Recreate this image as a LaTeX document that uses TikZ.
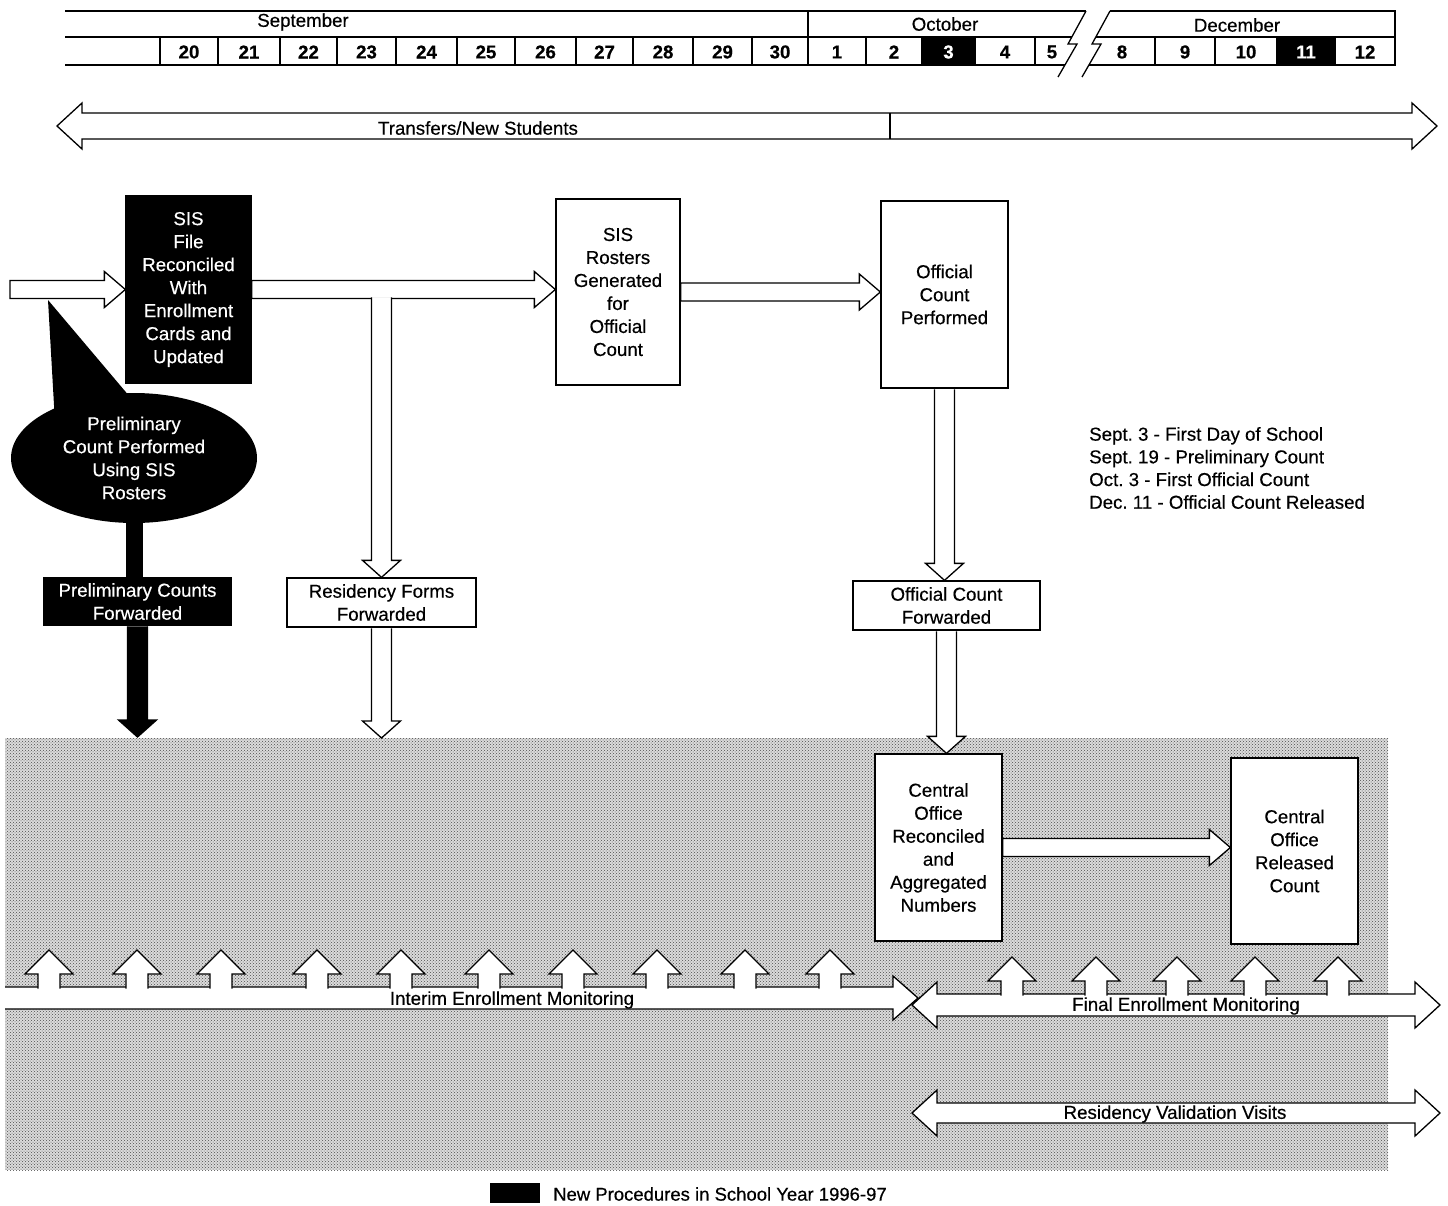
\documentclass[tikz,border=0pt]{standalone}
\usepackage{fontspec}
\setmainfont{Liberation Sans}[FakeBold=0.45]
\usetikzlibrary{calc,patterns,shapes.geometric}
\frenchspacing
\newcommand\fs{\fontsize{18.7}{23}\selectfont}
\newcommand\rarr[3][]{\filldraw[blockarr,#1] let \p1=(#2), \p2=(#3) in
  ({\x1},{\y1+9pt}) -- ({\x2-21pt},{\y1+9pt}) -- ({\x2-21pt},{\y1+18pt}) -- ({\x2},{\y1})
  -- ({\x2-21pt},{\y1-18pt}) -- ({\x2-21pt},{\y1-9pt}) -- ({\x1},{\y1-9pt}) -- cycle;}
\newcommand\darr[3][]{\filldraw[blockarr,#1] let \p1=(#2), \p2=(#3) in
  ({\x1-10pt},{\y1-0.8pt}) -- ({\x1-10pt},{\y2+17pt}) -- ({\x1-19pt},{\y2+17pt}) -- ({\x1},{\y2})
  -- ({\x1+19pt},{\y2+17pt}) -- ({\x1+10pt},{\y2+17pt}) -- ({\x1+10pt},{\y1-0.8pt});}
\tikzset{
  procbox/.style={draw, fill=white, line width=1.3pt, inner sep=0pt, align=center, font=\fs},
  newbox/.style={procbox, fill=black, text=white},
  blockarr/.style={draw, fill=white, line width=1.3pt, line join=miter},
  lbl/.style={font=\fs, inner sep=0pt},
  daynum/.style={font=\fs\bfseries, inner sep=0pt},
  calline/.style={line width=1.3pt},
}
\begin{document}
\begin{tikzpicture}[x=1pt,y=-1pt]
\useasboundingbox (0,0) rectangle (1448,1205);
% shaded region
\fill[black!14] (5,738) rectangle (1388,1170);
\fill[pattern=crosshatch dots, pattern color=black!70] (5,738) rectangle (1388,1170);

% ---------- calendar ----------
\fill (922,37) rectangle (975,65);
\fill (1277,37) rectangle (1335,65);
\draw[calline] (65,11) -- (1086,11);
\draw[calline] (65,37) -- (1071.8,37);
\draw[calline] (65,65) -- (1064.9,65);
\draw[calline] (1110,11) -- (1395,11) -- (1395,65) -- (1088.9,65);
\draw[calline] (1095.8,37) -- (1395,37);
\draw[calline] (808,11) -- (808,65);
\foreach \x in {160,218,280,337,396,457,515,576,633,693,752,866,922,975,1035,1155,1215,1277,1335}
  \draw[calline] (\x,37) -- (\x,65);
\draw[calline] (1086,11) -- (1068,44) -- (1077,44) -- (1058,77);
\draw[calline] (1110,11) -- (1092,44) -- (1101,44) -- (1082,77);
\node[lbl] (msep) at (303,22) {September};
\node[lbl] (moct) at (945,24) {October};
\node[lbl] (mdec) at (1237,25) {December};
\foreach \n/\x in {20/189,21/249,22/308.5,23/366.5,24/426.5,25/486,26/545.5,27/604.5,28/663,29/722.5,30/780,
  1/837,2/894,4/1005,5/1052,8/1122,9/1185,10/1246,12/1365}
  \node[daynum] (d\n) at (\x,52) {\n};
\node[daynum,text=white] (d3) at (948.5,52) {3};
\node[daynum,text=white] (d11) at (1306,52) {11};

% ---------- transfers arrow ----------
\filldraw[blockarr] (57,126) -- (82,103) -- (82,113) -- (1412,113) -- (1412,103) -- (1437,126)
  -- (1412,149) -- (1412,139) -- (82,139) -- (82,149) -- cycle;
\draw[line width=1.3pt] (890,113) -- (890,139);
\node[lbl] (trans) at (478,128) {Transfers/New Students};

% ---------- callout spike and ellipse ----------
\fill (48,300) -- (130,397) -- (130,440) -- (56,440) -- cycle;
\node[ellipse, fill=black, text=white, minimum width=246, minimum height=130, inner sep=0pt,
  align=center, font=\fs] (ell) at (134,458) {Preliminary\\Count Performed\\Using SIS\\Rosters};

% ---------- boxes ----------
\node[newbox, minimum width=125, minimum height=187] (sis) at (188.5,289.5)
  {SIS\\File\\Reconciled\\With\\Enrollment\\Cards and\\Updated};
\node[procbox, minimum width=124, minimum height=186] (rost) at (618,292)
  {SIS\\Rosters\\Generated\\for\\Official\\Count};
\node[procbox, minimum width=127, minimum height=187] (off) at (944.5,294.5)
  {Official\\Count\\Performed};
\node[newbox, minimum width=187, minimum height=47] (pcf) at (137.5,601.5)
  {Preliminary Counts\\Forwarded};
\node[procbox, minimum width=189, minimum height=49] (res) at (381.5,602.5)
  {Residency Forms\\Forwarded};
\node[procbox, minimum width=187, minimum height=49] (ocf) at (946.5,605.5)
  {Official Count\\Forwarded};
\node[procbox, minimum width=127, minimum height=187] (rec) at (938.5,847.5)
  {Central\\Office\\Reconciled\\and\\Aggregated\\Numbers};
\node[procbox, minimum width=127, minimum height=186] (rel) at (1294.5,851)
  {Central\\Office\\Released\\Count};

% ---------- connectors ----------
\coordinate (in0) at (10,289.5);
\coordinate (br) at (381.5,296.5);
\coordinate (restip) at (381.5,738);
\coordinate (pctip) at (137.5,737);
\rarr{in0}{sis.west}
\rarr{sis.east}{rost.west}
\darr{br}{res.north}
\darr{res.south}{restip}
\rarr{rost.east}{off.west}
\darr{off.south}{ocf.north}
\darr{ocf.south}{rec.north}
\rarr{rec.east}{rel.west}
\fill let \p1=(ell.south), \p2=(pcf.north) in ({\x1-8.5pt},{\y1+4pt}) rectangle ({\x1+8.5pt},{\y2});
\darr[fill=black]{pcf.south}{pctip}

% ---------- monitoring bands ----------
\fill[white] (5,987) -- (893,987) -- (893,976) -- (918,998) -- (893,1020) -- (893,1009) -- (5,1009) -- cycle;
\fill[white] (912,1005) -- (937,982) -- (937,994) -- (1415,994) -- (1415,982) -- (1440,1005)
  -- (1415,1028) -- (1415,1016) -- (937,1016) -- (937,1028) -- cycle;
\draw[line width=1.3pt, line join=miter] (5,987) -- (893,987) -- (893,976) -- (918,998) -- (893,1020) -- (893,1009) -- (5,1009);
\draw[line width=1.3pt, line join=miter] (912,1005) -- (937,982) -- (937,994) -- (1415,994) -- (1415,982) -- (1440,1005)
  -- (1415,1028) -- (1415,1016) -- (937,1016) -- (937,1028) -- cycle;
\foreach \x in {49,137,221,317,401,489,573,657,745,830}
  \filldraw[blockarr] (\x-11,988.5) -- (\x-11,974) -- (\x-24,974) -- (\x,950) -- (\x+24,974) -- (\x+11,974) -- (\x+11,988.5);
\foreach \x in {1012,1096,1177,1255,1338}
  \filldraw[blockarr] (\x-11,995.5) -- (\x-11,981) -- (\x-24,981) -- (\x,957) -- (\x+24,981) -- (\x+11,981) -- (\x+11,995.5);
\node[lbl] (interim) at (512,1000) {Interim Enrollment Monitoring};
\node[lbl] (final) at (1186,1006) {Final Enrollment Monitoring};

\filldraw[blockarr] (912,1113) -- (937,1090) -- (937,1103) -- (1415,1103) -- (1415,1090) -- (1440,1113)
  -- (1415,1136) -- (1415,1123) -- (937,1123) -- (937,1136) -- cycle;
\node[lbl] (rvv) at (1175,1114) {Residency Validation Visits};

% ---------- notes ----------
\node[lbl, anchor=west, align=left, font=\fontsize{18.7}{22.7}\selectfont] (notes) at (1089,468)
  {Sept. 3 - First Day of School\\Sept. 19 - Preliminary Count\\Oct. 3 - First Official Count\\Dec. 11 - Official Count Released};

% ---------- legend ----------
\fill (490,1183) rectangle (540,1203);
\node[lbl, anchor=west, font=\fontsize{18.5}{21}\selectfont] (legend) at (553,1194) {New Procedures in School Year 1996-97};
\end{tikzpicture}
\end{document}
